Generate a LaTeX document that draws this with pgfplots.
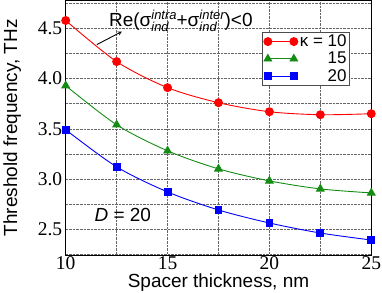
\documentclass[border=0pt]{standalone}
\usepackage{pgfplots}
\pgfplotsset{compat=1.18}
\usepackage{fontspec}
\setmainfont{Liberation Sans}
\newfontfamily\serif{Liberation Serif}
\definecolor{mygreen}{RGB}{20,140,20}
\newcommand{\supsub}[2]{\raisebox{0.1ex}{\fontsize{13}{13}\itshape\setlength{\tabcolsep}{0pt}\renewcommand{\arraystretch}{0.85}\begin{tabular}[c]{l}#1\\#2\end{tabular}}}
\begin{document}
\begin{tikzpicture}
\begin{axis}[
  scale only axis, width=306pt, height=255pt,
  xmin=10, xmax=25, ymin=2.24, ymax=4.78,
  xtick={10,15,20,25}, ytick={2.5,3.0,3.5,4.0,4.5},
  minor xtick={12.5,17.5,22.5}, minor ytick={2.25,2.75,3.25,3.75,4.25,4.75},
  yticklabel style={/pgf/number format/.cd,fixed,fixed zerofill,precision=1},
  /pgf/number format/assume math mode=true,
  ticklabel style={font=\serif\fontsize{19.5}{20}\selectfont},
  xticklabel style={inner sep=1pt},
  grid=both,
  major grid style={black!60, densely dotted, line width=0.5pt},
  minor grid style={black!60, densely dotted, line width=0.5pt},
  tick align=inside, major tick length=0pt, minor tick length=0pt,
  axis line style={line width=0.9pt},
  xlabel={Spacer thickness, nm}, ylabel={Threshold frequency, THz},
  label style={font=\fontsize{19}{19}\selectfont},
  xlabel style={yshift=-2pt, inner sep=1pt}, ylabel style={yshift=10pt},
  legend style={at={(0.644,0.878)}, anchor=north west, font=\fontsize{17}{17}\selectfont, draw=black!70, line width=0.8pt, cells={anchor=east, inner sep=1pt}, row sep=0pt, inner sep=1pt},
  legend cell align=right,
  legend image code/.code={\draw[#1] plot coordinates {(0pt,0pt) (26pt,0pt)};},
  clip=false,
]
\addplot[red, line width=0.9pt, smooth, mark=*, mark size=4pt, mark options={solid}] coordinates {
(10,4.58) (12.5,4.17) (15,3.91) (17.5,3.76) (20,3.67) (22.5,3.64) (25,3.65)};
\addlegendentry{κ = 10}
\addplot[mygreen, line width=0.9pt, smooth, mark=triangle*, mark size=4.4pt] coordinates {
(10,3.93) (12.5,3.54) (15,3.28) (17.5,3.10) (20,2.98) (22.5,2.90) (25,2.86)};
\addlegendentry{15}
\addplot[blue, line width=0.9pt, smooth, mark=square*, mark size=3.4pt] coordinates {
(10,3.49) (12.5,3.12) (15,2.87) (17.5,2.69) (20,2.56) (22.5,2.46) (25,2.39)};
\addlegendentry{20}
\node[anchor=west, inner sep=0pt, font=\fontsize{19}{19}\selectfont] at (axis cs:12.12,4.56) {Re(σ\supsub{intra}{ind}+σ\supsub{inter}{ind})<0};
\draw[-stealth, line width=0.9pt] (axis cs:11.53,4.34) -- (axis cs:12.76,4.47);
\node[font=\fontsize{19}{19}\selectfont] at (axis cs:12.8,2.64) {\textit{D} = 20};
\end{axis}
\end{tikzpicture}
\end{document}
